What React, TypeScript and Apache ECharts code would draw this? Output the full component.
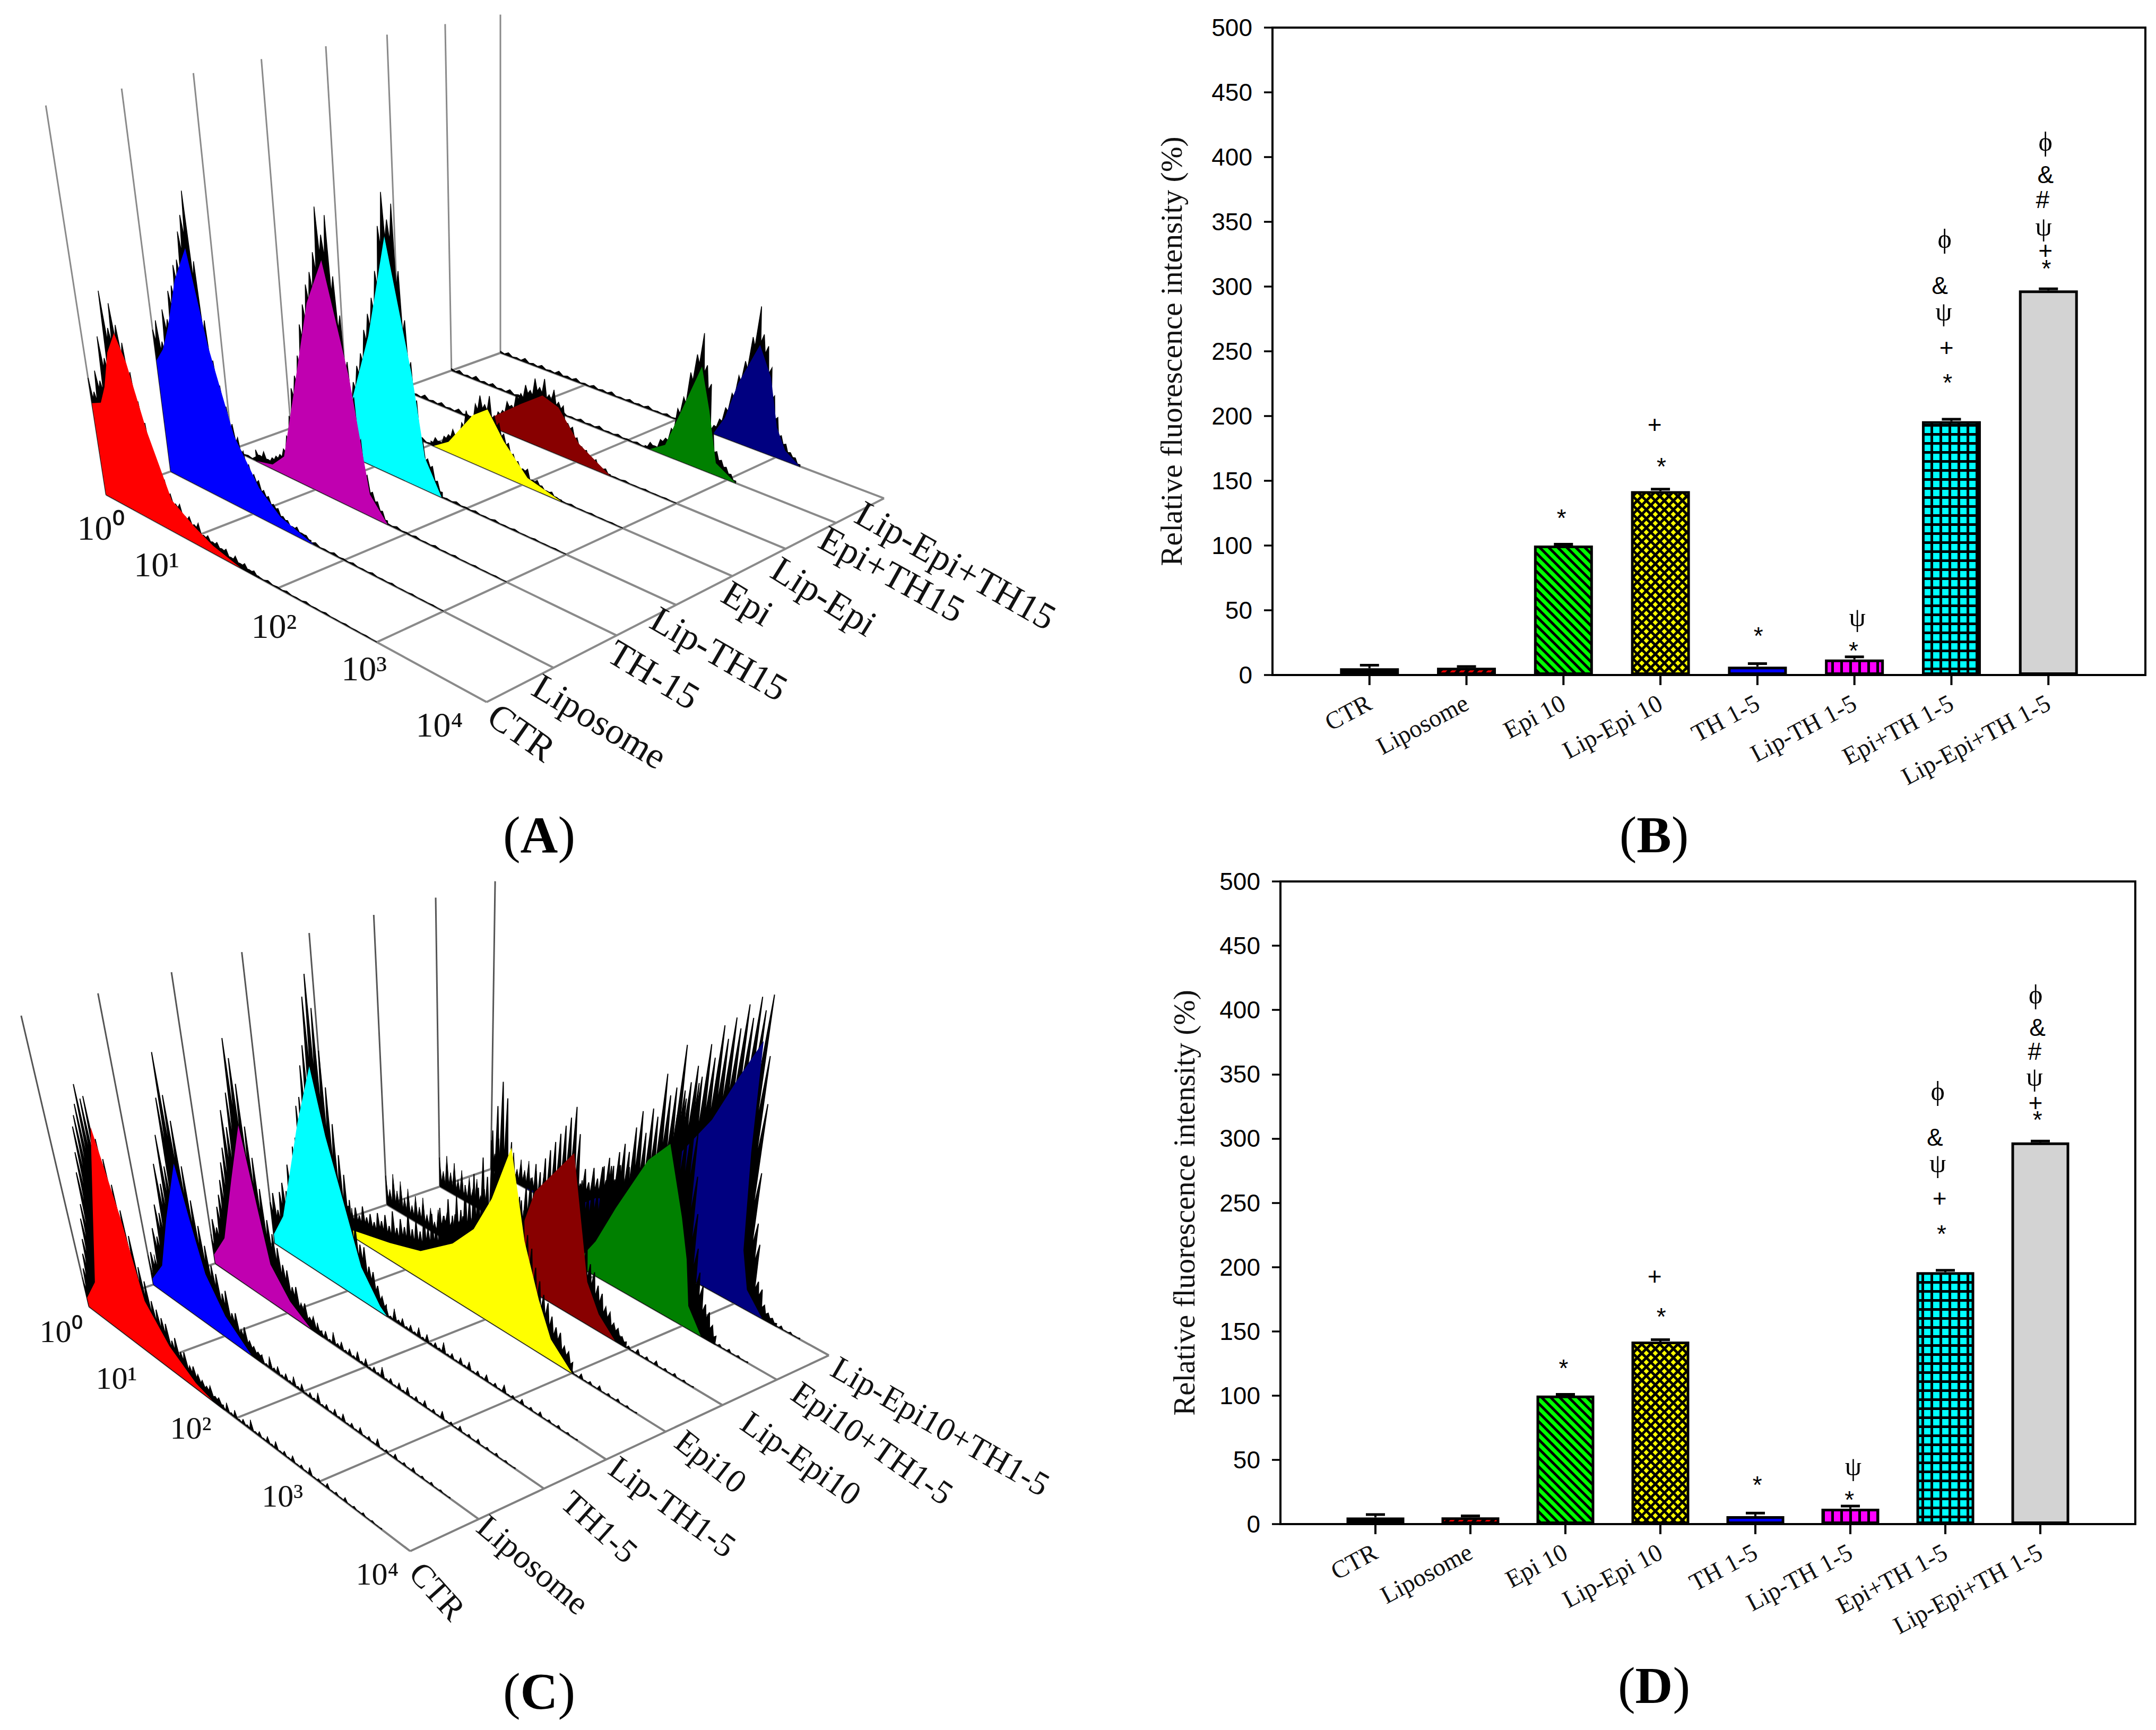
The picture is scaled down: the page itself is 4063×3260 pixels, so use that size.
import React, { useEffect, useRef } from "react";
import * as echarts from "echarts";

// ---------- bar panels (B and D) ----------
const categories = ["CTR", "Liposome", "Epi 10", "Lip-Epi 10", "TH 1-5", "Lip-TH 1-5", "Epi+TH 1-5", "Lip-Epi+TH 1-5"];
const yTicks = { min: 0, max: 500, interval: 50 };
const valuesB = [5.2, 5.6, 100, 142, 6.5, 12, 196, 297];
const whiskerB = [7.6, 6.6, 101, 143.5, 8.8, 14, 197.5, 298.3];
const valuesD = [5.2, 5.3, 100, 142, 6.2, 12, 196, 297];
const whiskerD = [7.4, 6.4, 101, 143.5, 8.6, 14, 197.5, 298];
const marksB: [number, number, string][] = [
  [2.98, 123.5, "*"], [4.01, 163, "*"], [3.94, 193.6, "+"], [5.01, 32.5, "*"], [5.99, 21, "*"], [6.03, 41.7, "ψ"],
  [6.96, 228, "*"], [6.95, 253, "+"], [6.92, 278, "ψ"], [6.88, 301, "&"], [6.93, 334, "ϕ"],
  [7.98, 316, "*"], [7.97, 328, "+"], [7.95, 343.5, "ψ"], [7.94, 365, "#"], [7.97, 386.5, "&"], [7.97, 409, "ϕ"],
];
const marksD: [number, number, string][] = [
  [2.98, 123.4, "*"], [4.01, 163.5, "*"], [3.94, 193, "+"], [5.02, 32.8, "*"], [5.99, 21, "*"], [6.03, 42, "ψ"],
  [6.96, 228, "*"], [6.94, 253.7, "+"], [6.92, 278, "ψ"], [6.89, 301, "&"], [6.92, 334, "ϕ"],
  [7.97, 316.6, "*"], [7.95, 328, "+"], [7.94, 345, "ψ"], [7.94, 366, "#"], [7.97, 386.5, "&"], [7.95, 409, "ϕ"],
];
const yTitle = "Relative fluorescence intensity (%)";

// ---------- histogram panels (A and C): sample names, decades ----------
const aLabels = ["CTR", "Liposome", "TH-15", "Lip-TH15", "Epi", "Lip-Epi", "Epi+TH15", "Lip-Epi+TH15"];
const cLabels = ["CTR", "Liposome", "TH1-5", "Lip-TH1-5", "Epi10", "Lip-Epi10", "Epi10+TH1-5", "Lip-Epi10+TH1-5"];
const decadeLabels = ["10⁰", "10¹", "10²", "10³", "10⁴"];
const histColors = ["#ff0000", "#0000ff", "#c000b0", "#00ffff", "#ffff00", "#880000", "#008000", "#000080"];

// Panel A: outline heights (axis fraction) every 0.05 decade, from the start decade of each
const aJagStart = [0, 0, 0.3, 0.4, 1.0, 1.0, 2.18, 2.33];
const aJagCtr = [.30,.27,.33,.31,.43,.38,.56,.47,.54,.49,.45,.38,.31,.26,.19,.16,.13,.10,.08,.085,.06,.065,.05,.06,.035,.04,.03,.035,.025,.03,.015,.025,.012,.018,.008,.012,.004];
const aJagLipo = [.37,.40,.35,.44,.42,.50,.52,.58,.60,.68,.73,.80,.62,.47,.37,.31,.26,.22,.19,.16,.13,.11,.10,.08,.07,.055,.05,.035,.03,.02,.025,.015,.015,.008];
const aJagTh = [.03,.02,.035,.02,.03,.04,.05,.07,.11,.17,.25,.29,.35,.44,.50,.56,.60,.66,.79,.72,.78,.62,.52,.40,.31,.20,.11,.07,.05,.03,.01];
const aJagLipTh = [.02,.025,.02,.04,.06,.08,.12,.17,.21,.26,.30,.37,.42,.47,.55,.68,.78,.71,.76,.58,.45,.34,.24,.14,.09,.075,.04,.015];
const aJagEpi = [.01,.025,.02,.04,.05,.07,.06,.10,.14,.13,.17,.20,.18,.21,.16,.145,.12,.10,.075,.06,.045,.05,.025,.03,.02,.012,.015,.006,.004];
const aJagLipEpi = [.02,.03,.025,.05,.06,.09,.085,.12,.13,.16,.15,.19,.17,.20,.16,.18,.15,.145,.10,.095,.07,.05,.045,.025,.03,.012,.015,.004];
const aJagEpiTh = [.005,.02,.015,.04,.05,.085,.15,.19,.27,.33,.40,.31,.26,.13,.07,.05,.035,.02,.006];
const aJagLipEpiTh = [.01,.025,.05,.09,.14,.20,.25,.33,.43,.35,.32,.26,.18,.12,.07,.05,.03,.02,.005];
// Panel A: smooth coloured fill as [decade, height]
const aFillCtr = [[0,.235],[.12,.25],[.2,.30],[.3,.40],[.42,.465],[.52,.40],[.66,.24],[.86,.085],[1.1,.045],[1.3,.02],[1.6,0]];
const aFillLipo = [[0,.29],[.1,.33],[.2,.40],[.35,.54],[.52,.645],[.66,.405],[.86,.19],[1.1,.08],[1.32,.03],[1.68,0]];
const aFillTh = [[.3,0],[.5,.012],[.65,.05],[.8,.21],[1.05,.51],[1.24,.65],[1.46,.36],[1.62,.06],[1.8,0]];
const aFillLipTh = [[.4,.01],[.6,.05],[.76,.145],[1,.36],[1.22,.66],[1.46,.30],[1.57,.09],[1.74,0]];
const aFillEpi = [[1.03,0],[1.2,.03],[1.47,.135],[1.63,.17],[1.8,.10],[2.05,.025],[2.4,0]];
const aFillLipEpi = [[1.0,.01],[1.4,.10],[1.63,.15],[1.8,.135],[2.02,.055],[2.35,0]];
const aFillEpiTh = [[2.23,0],[2.38,.03],[2.53,.16],[2.68,.30],[2.78,.18],[2.88,.035],[3.08,0]];
const aFillLipEpiTh = [[2.38,0],[2.48,.06],[2.58,.177],[2.75,.315],[2.88,.23],[2.98,.09],[3.08,.03],[3.23,0]];
const aHair = [.006,.01,.005,.012,.006,.01,.005,.012,.007,.01,.005,.009,.006,.01,.004,.008,.005,.009,.004,.007,.004,.006,.003,.006,.003,.005,.002,.004,.002,.003,.001];

// Panel C
const cJagStart = [0, 0, 0, 0, 0, 0.72, 1.4, 0.85];
const cJagCtr = [.08,.14,.2,.26,.34,.4,.52,.6,.7,.75,.8,.88,.84,.86,.72,.66,.58,.5,.42,.32,.28,.22,.2,.18,.17,.12,.14,.1,.11,.07,.08,.06,.05,.04,.05,.025,.03,.015];
const cJagLipo = [.04,.12,.1,.22,.2,.32,.3,.48,.42,.6,.5,.75,.92,.78,.7,.55,.44,.36,.3,.24,.22,.16,.18,.11,.12,.07,.09,.05,.04,.03,.03];
const cJagTh = [.08,.16,.14,.22,.27,.33,.4,.46,.6,.55,.68,.88,.82,.74,.6,.5,.4,.3,.26,.22,.17,.16,.11,.12,.07,.08,.04,.05,.02,.02];
const cJagLipTh = [.14,.18,.13,.2,.24,.22,.32,.3,.4,.44,.56,.6,.72,.8,.98,1.07,.96,.82,.7,.58,.48,.42,.34,.26,.2,.2,.14,.13,.09,.06,.04];
const cJagEpi = [.04,.06,.05,.09,.07,.1,.08,.11,.09,.13,.1,.12,.1,.14,.12,.15,.12,.18,.13,.17,.15,.21,.16,.2,.17,.24,.2,.26,.22,.3,.28,.35,.3,.38,.34,.44,.4,.5,.46,.58,.52,.7,.8,.9,.85,.7,.58,.52,.48,.4,.36,.3,.26,.22,.2,.16,.13,.12,.08,.07,.04];
const cJagLipEpi = [.06,.08,.1,.07,.11,.09,.12,.1,.13,.11,.12,.1,.14,.13,.15,.18,.2,.24,.22,.28,.3,.36,.4,.46,.44,.5,.54,.58,.62,.66,.7,.75,.66,.5,.38,.28,.22,.2,.16,.14,.1,.09,.06,.05,.03,.02];
const cJagEpiTh = [.1,.16,.2,.18,.26,.22,.31,.25,.33,.27,.34,.3,.4,.44,.42,.48,.52,.5,.6,.67,.6,.7,.68,.85,.78,.82,.99,.8,.7,.88,.7,.55,.42,.3,.22,.18,.12,.1,.06,.03];
const cJagLipEpiTh = [.06,.1,.08,.13,.1,.16,.12,.18,.14,.2,.17,.22,.18,.24,.2,.26,.22,.27,.23,.3,.25,.3,.32,.34,.38,.44,.54,.64,.68,.75,.72,.85,.81,.94,.9,.99,.96,1.06,1.02,1.11,1.07,1.14,.92,.75,.5,.32,.25,.12,.1,.05,.03,.02,.01];
const cFillCtr = [[0,.03],[.2,.12],[.42,.40],[.67,.755],[.83,.48],[.95,.2],[1.2,.09],[1.5,.02],[1.7,0]];
const cFillLipo = [[0,.02],[.2,.1],[.4,.3],[.65,.54],[.75,.35],[.85,.19],[1.05,.08],[1.35,0]];
const cFillTh = [[0,.03],[.2,.12],[.42,.36],[.62,.59],[.75,.3],[.83,.14],[1.05,.05],[1.3,0]];
const cFillLipTh = [[0,.03],[.17,.12],[.5,.5],[.72,.74],[.85,.52],[1.03,.31],[1.2,.12],[1.42,.02],[1.5,0]];
const cFillEpi = [[0,0],[.4,.03],[.8,.06],[1.2,.10],[1.6,.2],[1.85,.3],[2.05,.45],[2.25,.68],[2.42,.37],[2.6,.19],[2.75,.075],[3.0,0]];
const cFillLipEpi = [[1.22,0],[1.67,.13],[1.87,.36],[2.27,.58],[2.5,.15],[2.65,.06],[2.85,0]];
const cFillEpiTh = [[1.75,0],[1.97,.12],[2.16,.276],[2.45,.51],[2.65,.61],[2.85,.376],[2.95,.24],[3.03,.08],[3.2,0]];
const cFillLipEpiTh = [[.45,0],[1.1,.03],[1.35,.1],[1.65,.14],[2.0,.18],[2.11,.22],[2.17,.38],[2.5,.59],[2.7,.79],[2.87,.96],[2.92,.55],[3.0,.2],[3.1,.07],[3.3,0]];
const cHair = [.1,.06,.12,.07,.11,.06,.1,.05,.09,.06,.1,.05,.08,.04,.09,.05,.07,.03,.06,.03,.05,.02,.04,.02,.05,.02,.03,.015,.04,.015,.03,.01,.045,.015,.03,.01,.025,.01,.035,.01,.03,.008,.02,.01,.04,.008,.02,.006,.025,.008,.03,.006,.018,.006,.025,.005,.015,.005,.03,.005,.012,.004,.02,.004,.012,.003,.018,.003,.01,.003,.012,.002,.008,.002,.005];

// ---------- geometry of the panels (pixels) ----------
const W = 4063;
const H = 3260;
const panelA = {
  corners: [[200, 932], [917, 1323], [1666, 939], [943, 665]],
  vp: [943, 5725], f0: 0.153, f1: 0.126,
  labels: aLabels, labelSize: 70, decadeSize: 66, comb: 0.92, jagStroke: 1.5, dv: 0.05,
  angles: [35, 31, 31, 30, 31, 32, 29, 29.5],
  labelOff: [[10, 18], [-33, 29], [-10, 26], [-42, 21], [-13, 26], [-20, 32], [-26, 24], [-48, 23]],
  decadeOff: [[-10, 62], [-59, 47], [-7, 71], [-24, 49], [-89, 42]],
  jagStart: aJagStart,
  jags: [aJagCtr, aJagLipo, aJagTh, aJagLipTh, aJagEpi, aJagLipEpi, aJagEpiTh, aJagLipEpiTh],
  fills: [aFillCtr, aFillLipo, aFillTh, aFillLipTh, aFillEpi, aFillLipEpi, aFillEpiTh, aFillLipEpiTh],
  hair: aHair, hairDv: 0.1,
  floor: "#8a8a8a", wall: "#8a8a8a",
};
const panelC = {
  corners: [[168, 2462], [773, 2923], [1562, 2554], [925, 2203]],
  vp: [876, 5490], f0: 0.181, f1: 0.165,
  labels: cLabels, labelSize: 63, decadeSize: 60, comb: 0.7, jagStroke: 2, dv: 0.05,
  angles: [48, 40, 42, 36, 38, 35, 35, 30],
  labelOff: [[10, 30], [6, 5], [42, 16], [13, 8], [26, 10], [42, 26], [35, 18], [10, 18]],
  decadeOff: [[-53, 47], [-81, 34], [-85, 18], [-69, 27], [-62, 43]],
  jagStart: cJagStart,
  jags: [cJagCtr, cJagLipo, cJagTh, cJagLipTh, cJagEpi, cJagLipEpi, cJagEpiTh, cJagLipEpiTh],
  fills: [cFillCtr, cFillLipo, cFillTh, cFillLipTh, cFillEpi, cFillLipEpi, cFillEpiTh, cFillLipEpiTh],
  hair: cHair, hairDv: 0.05,
  floor: "#808080", wall: "#555555",
};

function makeProjector(p: any) {
  const [A, B, C, D] = p.corners;
  const dx1 = B[0] - C[0], dx2 = D[0] - C[0], sx = A[0] - B[0] + C[0] - D[0];
  const dy1 = B[1] - C[1], dy2 = D[1] - C[1], sy = A[1] - B[1] + C[1] - D[1];
  const den = dx1 * dy2 - dx2 * dy1;
  const g = (sx * dy2 - dx2 * sy) / den;
  const h = (dx1 * sy - sx * dy1) / den;
  const a = B[0] - A[0] + g * B[0], b = D[0] - A[0] + h * D[0], c = A[0];
  const d = B[1] - A[1] + g * B[1], e = D[1] - A[1] + h * D[1], f = A[1];
  return (s: number, v: number, z: number) => {
    const u = v / 4;
    const w = g * u + h * s + 1;
    const x = (a * u + b * s + c) / w;
    const y = (d * u + e * s + f) / w;
    const k = (p.f0 + (p.f1 - p.f0) * s) * z;
    return [x + (x - p.vp[0]) * k, y + (y - p.vp[1]) * k];
  };
}

function combRows(v0: number, dv: number, zs: number[], comb: number) {
  const rows: number[][] = [];
  zs.forEach((z, i) => {
    rows.push([v0 + i * dv, z]);
    if (i < zs.length - 1) rows.push([v0 + (i + 0.5) * dv, Math.min(z, zs[i + 1]) * comb]);
  });
  return rows;
}

const SERIF = '"Liberation Serif", "Times New Roman", serif';
const SANS = '"Liberation Sans", Arial, sans-serif';

function histogramSeries(p: any, gridIdx: number) {
  const proj = makeProjector(p);
  const items = 1 + 8 + 1 + 8 + 5;
  const data = Array.from({ length: items }, () => [0, 0]);
  return {
    type: "custom",
    xAxisIndex: gridIdx,
    yAxisIndex: gridIdx,
    clip: false,
    silent: true,
    data,
    renderItem: (params: any, api: any) => {
      const idx = params.dataIndex;
      const pt = (s: number, v: number, z: number) => api.coord(proj(s, v, z));
      if (idx === 0) {
        const children: any[] = [];
        const line = (pts: number[][], col: string, lw: number) => children.push({
          type: "polyline", shape: { points: pts }, style: { fill: "none", stroke: col, lineWidth: lw },
        });
        for (let i = 0; i < 8; i++) {
          const s = i / 7;
          line([pt(s, 0, 0), pt(s, 0, 1)], p.wall, 3);
          line([pt(s, 0, 0), pt(s, 4, 0)], p.floor, 4);
        }
        for (let d = 0; d <= 4; d++) {
          line([pt(0, d, 0), pt(1, d, 0)], p.floor, 4);
        }
        return { type: "group", children };
      }
      if (idx >= 1 && idx <= 8) {
        const i = 8 - idx; // back sample first
        const s = i / 7;
        const jag = p.jags[i];
        const v0 = p.jagStart[i];
        const rows = combRows(v0, p.dv, jag, p.comb);
        const hairRows = combRows(0, p.hairDv, p.hair, 0.35);
        const hairPts = [pt(s, 0, 0), ...hairRows.map((r) => pt(s, r[0], r[1])), pt(s, hairRows[hairRows.length - 1][0], 0)];
        const jagPts = [pt(s, v0, 0), ...rows.map((r) => pt(s, r[0], r[1])), pt(s, rows[rows.length - 1][0], 0)];
        const fill = p.fills[i];
        const fillPts = [pt(s, fill[0][0], 0), ...fill.map((r: number[]) => pt(s, r[0], r[1])), pt(s, fill[fill.length - 1][0], 0)];
        return {
          type: "group",
          children: [
            { type: "polygon", shape: { points: hairPts }, style: { fill: "#000", stroke: "#000", lineWidth: 1 } },
            { type: "polygon", shape: { points: jagPts }, style: { fill: "#000", stroke: "#000", lineWidth: p.jagStroke } },
            { type: "polygon", shape: { points: fillPts }, style: { fill: histColors[i], stroke: "none" } },
          ],
        };
      }
      if (idx === 9) return { type: "group", children: [] };
      if (idx <= 17) {
        const i = idx - 10;
        const o = p.labelOff[i];
        const c = proj(i / 7, 4, 0);
        const at = api.coord([c[0] + o[0], c[1] + o[1]]);
        return {
          type: "text", x: at[0], y: at[1], rotation: (-p.angles[i] * Math.PI) / 180,
          style: { text: p.labels[i], fill: "#111", fontFamily: SERIF, fontSize: p.labelSize, align: "left", verticalAlign: "middle" },
        };
      }
      const d = idx - 18;
      const o = p.decadeOff[d];
      const c = proj(0, d, 0);
      const at = api.coord([c[0] + o[0], c[1] + o[1]]);
      return {
        type: "text", x: at[0], y: at[1],
        style: { text: decadeLabels[d], fill: "#111", fontFamily: SERIF, fontSize: p.decadeSize, align: "center", verticalAlign: "middle" },
      };
    },
  };
}

// ---------- hatch tiles for the bars ----------
const P = 17;
function tile(bg: string, kind: string) {
  const cv = document.createElement("canvas");
  cv.width = P;
  cv.height = P;
  const c = cv.getContext("2d")!;
  c.fillStyle = bg;
  c.fillRect(0, 0, P, P);
  c.strokeStyle = "#000";
  c.lineCap = "square";
  const seg = (x1: number, y1: number, x2: number, y2: number) => { c.beginPath(); c.moveTo(x1, y1); c.lineTo(x2, y2); c.stroke(); };
  const back = () => { seg(-P, -P, 2 * P, 2 * P); seg(-P, 0, P, 2 * P); seg(0, -P, 2 * P, P); };
  const fwd = () => { seg(-P, 2 * P, 2 * P, -P); seg(-P, P, P, -P); seg(0, 2 * P, 2 * P, 0); };
  if (kind === "back") { c.lineWidth = 5; back(); }
  if (kind === "fwd") { c.lineWidth = 6; fwd(); }
  if (kind === "cross") { c.lineWidth = 5; back(); fwd(); }
  if (kind === "vert") { c.fillStyle = "#000"; c.fillRect(0, 0, 5, P); }
  if (kind === "grid") { c.fillStyle = "#000"; c.fillRect(0, 0, 5, P); c.fillRect(0, 0, P, 5); }
  return { image: cv.toDataURL(), repeat: "repeat", imageWidth: P, imageHeight: P };
}

const markDy: Record<string, number> = { "*": 5, "+": 0, "ψ": -7, "ϕ": -7, "&": 0, "#": -5 };

function barSeries(values: number[], whisker: number[], marks: [number, number, string][], gi: number, barW: number, fills: any[]) {
  const xs = values.map((_, i) => i + 1);
  return [
    {
      type: "bar", xAxisIndex: gi, yAxisIndex: gi, barWidth: barW, silent: true,
      data: values.map((v, i) => ({ value: [xs[i], v], itemStyle: { color: fills[i], borderColor: "#000", borderWidth: 5 } })),
    },
    {
      type: "custom", xAxisIndex: gi, yAxisIndex: gi, silent: true, z: 5, clip: false,
      data: values.map((v, i) => [xs[i], v, whisker[i]]),
      renderItem: (_: any, api: any) => {
        const b = api.coord([api.value(0), api.value(1)]);
        const t = api.coord([api.value(0), api.value(2)]);
        const st = { stroke: "#000", lineWidth: 4, fill: "none" };
        return {
          type: "group",
          children: [
            { type: "line", shape: { x1: b[0], y1: b[1], x2: t[0], y2: t[1] }, style: st },
            { type: "line", shape: { x1: t[0] - 18, y1: t[1], x2: t[0] + 18, y2: t[1] }, style: { ...st, lineWidth: 5 } },
          ],
        };
      },
    },
    {
      // category ticks below the axis line
      type: "custom", xAxisIndex: gi, yAxisIndex: gi, silent: true, z: 10, clip: false,
      data: xs.map((x) => [x, 0]),
      renderItem: (_: any, api: any) => {
        const o = api.coord([api.value(0), api.value(1)]);
        return { type: "rect", shape: { x: o[0] - 2, y: o[1], width: 4, height: 19 }, style: { fill: "#000" } };
      },
    },
    {
      type: "custom", xAxisIndex: gi, yAxisIndex: gi, silent: true, z: 6,
      data: marks.map((m) => [m[0], m[1]]),
      renderItem: (params: any, api: any) => {
        const g = marks[params.dataIndex][2];
        const c = api.coord([api.value(0), api.value(1)]);
        const serif = g === "ψ" || g === "ϕ";
        return {
          type: "text", x: c[0], y: c[1] + markDy[g],
          style: {
            text: g, fill: "#000", align: "center", verticalAlign: "middle",
            fontFamily: serif ? '"Liberation Serif", "DejaVu Serif", serif' : SANS,
            fontSize: serif ? 50 : 46,
          },
        };
      },
    },
  ];
}

function xAxisFor(gi: number) {
  return {
    type: "value", gridIndex: gi, min: 0, max: 9, interval: 1,
    splitLine: { show: false },
    axisLine: { show: true, onZero: false, lineStyle: { color: "#000", width: 4 } },
    axisTick: { show: false },
    axisLabel: {
      show: true, rotate: 28, margin: 49, customValues: [1, 2, 3, 4, 5, 6, 7, 8],
      formatter: (v: number) => categories[v - 1] ?? "",
      fontFamily: SERIF, fontSize: 47, color: "#111",
    },
  };
}
function yAxisFor(gi: number, gap: number, titleSize: number) {
  return {
    type: "value", gridIndex: gi, ...yTicks,
    name: yTitle, nameLocation: "middle", nameGap: gap, nameRotate: 90,
    nameTextStyle: { fontFamily: SERIF, fontSize: titleSize, color: "#111" },
    splitLine: { show: false },
    axisLine: { show: true, lineStyle: { color: "#000", width: 4 } },
    axisTick: { show: true, length: 16, lineStyle: { color: "#000", width: 3.5 } },
    axisLabel: { show: true, margin: 38, fontFamily: SANS, fontSize: 46, color: "#000" },
  };
}
const panelLetter = (letter: string, x: number, y: number) => ({
  type: "text", x, y,
  style: {
    text: `{p|(}{b|${letter}}{p|)}`, align: "center", verticalAlign: "middle",
    rich: {
      p: { fontFamily: SERIF, fontSize: 98, fill: "#000", fontWeight: "normal" },
      b: { fontFamily: SERIF, fontSize: 98, fill: "#000", fontWeight: "bold" },
    },
  },
});

export default function App() {
  const ref = useRef<HTMLDivElement>(null);
  useEffect(() => {
    const chart = echarts.init(ref.current!, null, { renderer: "svg" });
    const fills = [
      "#000000", tile("#ff0000", "fwd"), tile("#00ff00", "back"), tile("#ffff00", "cross"),
      "#0000ff", tile("#ff00ff", "vert"), tile("#00ffff", "grid"), "#d3d3d3",
    ];
    chart.setOption({
      animation: false,
      backgroundColor: "#fff",
      grid: [
        { left: 2398, top: 52, width: 1645, height: 1220, show: true, borderColor: "#000", borderWidth: 4, backgroundColor: "transparent" },
        { left: 2413, top: 1661, width: 1611, height: 1211, show: true, borderColor: "#000", borderWidth: 4, backgroundColor: "transparent" },
        { left: 0, top: 0, width: W, height: H, show: false },
      ],
      xAxis: [xAxisFor(0), xAxisFor(1), { type: "value", gridIndex: 2, min: 0, max: W, show: false }],
      yAxis: [yAxisFor(0, 162, 57.5), yAxisFor(1, 153, 57), { type: "value", gridIndex: 2, min: 0, max: H, inverse: true, show: false }],
      series: [
        histogramSeries(panelA, 2),
        histogramSeries(panelC, 2),
        ...barSeries(valuesB, whiskerB, marksB, 0, 111, fills),
        ...barSeries(valuesD, whiskerD, marksD, 1, 109, fills),
      ],
      graphic: [
        panelLetter("A", 1016, 1573),
        panelLetter("B", 3117, 1573),
        panelLetter("C", 1016, 3187),
        panelLetter("D", 3117, 3176),
      ],
    });
    return () => chart.dispose();
  }, []);
  return <div ref={ref} style={{ position: "absolute", left: 0, top: 0, width: W, height: H }} />;
}
